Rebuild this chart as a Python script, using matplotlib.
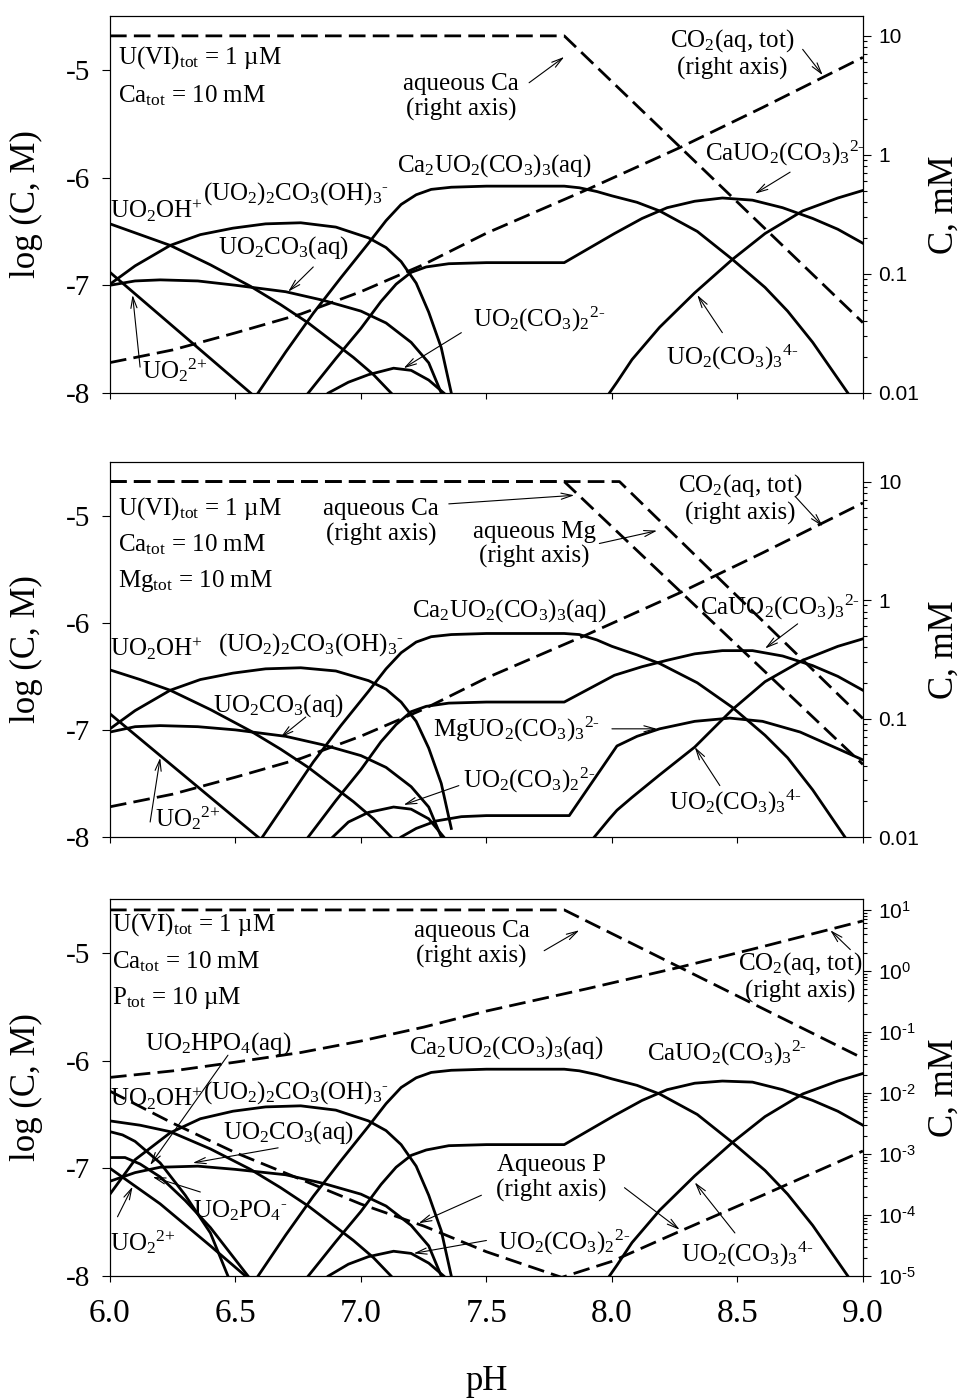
"""U(VI) speciation vs pH: Ca, Ca + Mg and Ca + P systems (three stacked panels)."""

import matplotlib
matplotlib.use("Agg")
import matplotlib.pyplot as plt
import numpy as np
from matplotlib.ticker import LogLocator, NullFormatter

plt.rcParams["font.family"] = ["Liberation Serif", "DejaVu Serif"]
plt.rcParams["mathtext.fontset"] = "custom"
plt.rcParams["mathtext.rm"] = "Liberation Serif"
plt.rcParams["mathtext.it"] = "Liberation Serif:italic"
plt.rcParams["mathtext.bf"] = "Liberation Serif:bold"
plt.rcParams["mathtext.sf"] = "Liberation Sans"
plt.rcParams["axes.unicode_minus"] = False

# ---------------- left axis: log(C, M) of U(VI) species ----------------
ph_uo2oh = [6.0, 6.12, 6.24, 6.4, 6.56, 6.68, 6.79, 6.88, 6.97, 7.05, 7.12]
p1_uo2oh = [-6.43, -6.53, -6.63, -6.81, -7.01, -7.18, -7.35, -7.51, -7.67, -7.83, -8.0]
p2_uo2oh = [-6.44, -6.53, -6.63, -6.81, -7.01, -7.18, -7.35, -7.51, -7.67, -7.83, -8.0]
p3_uo2oh = [-6.56, -6.6, -6.66, -6.82, -7.01, -7.18, -7.35, -7.51, -7.67, -7.83, -8.0]

ph_dimer = [6.0, 6.1, 6.24, 6.36, 6.49, 6.62, 6.76, 6.9, 7.03, 7.1, 7.16, 7.22, 7.27, 7.32, 7.36]
p1_dimer = [-6.99, -6.82, -6.63, -6.53, -6.47, -6.43, -6.42, -6.46, -6.56, -6.65, -6.78, -6.98, -7.25, -7.58, -8.0]
p2_dimer = [-6.99, -6.82, -6.63, -6.53, -6.47, -6.43, -6.42, -6.45, -6.54, -6.62, -6.74, -6.92, -7.17, -7.5, -7.92]
p3_dimer = [-7.24, -6.92, -6.67, -6.54, -6.47, -6.43, -6.42, -6.46, -6.56, -6.65, -6.78, -6.98, -7.25, -7.58, -8.0]

ph_uo2co3 = [6.0, 6.1, 6.2, 6.35, 6.5, 6.7, 6.85, 7.0, 7.1, 7.2, 7.27, 7.32]
p1_uo2co3 = [-7.0, -6.96, -6.95, -6.96, -7.0, -7.06, -7.14, -7.24, -7.35, -7.53, -7.72, -8.0]
p2_uo2co3 = [-7.02, -6.97, -6.96, -6.97, -7.0, -7.06, -7.14, -7.24, -7.35, -7.53, -7.72, -8.0]
p3_uo2co3 = [-7.12, -7.04, -6.99, -6.98, -7.01, -7.06, -7.14, -7.24, -7.35, -7.53, -7.72, -8.0]

ph_uo2 = [6.0, 6.2, 6.4, 6.6]
p1_uo2 = [-6.88, -7.28, -7.68, -8.08]
p2_uo2 = [-6.85, -7.24, -7.63, -8.02]
p3_uo2 = [-7.0, -7.33, -7.72, -8.12]

ph_hpo4 = [6.0, 6.05, 6.1, 6.2, 6.3, 6.4, 6.47]
p3_hpo4 = [-6.66, -6.69, -6.75, -6.95, -7.25, -7.6, -8.0]

ph_po4 = [6.0, 6.06, 6.12, 6.2, 6.3, 6.4, 6.55]
p3_po4 = [-6.9, -6.9, -6.96, -7.08, -7.3, -7.55, -8.0]

ph_ca2u = [6.59, 6.7, 6.81, 6.92, 7.03, 7.1, 7.16, 7.22, 7.28, 7.36, 7.5, 7.81, 7.87, 7.94,
           8.0, 8.1, 8.19, 8.34, 8.48, 8.61, 8.7, 8.8, 8.94]
p1_ca2u = [-8.0, -7.62, -7.26, -6.93, -6.61, -6.4, -6.25, -6.16, -6.11, -6.09, -6.08, -6.08,
           -6.095, -6.13, -6.17, -6.23, -6.31, -6.5, -6.76, -7.02, -7.24, -7.53, -8.0]
p2_ca2u = [-8.06, -7.68, -7.3, -6.96, -6.64, -6.43, -6.28, -6.18, -6.13, -6.11, -6.1, -6.1,
           -6.11, -6.16, -6.22, -6.3, -6.38, -6.56, -6.79, -7.05, -7.26, -7.56, -8.04]
p3_ca2u = p1_ca2u

ph_cau = [6.79, 6.9, 7.0, 7.08, 7.14, 7.2, 7.26, 7.35, 7.5, 7.81, 8.01, 8.12, 8.22, 8.33,
          8.44, 8.56, 8.68, 8.8, 8.9, 9.0]
p1_cau = [-8.0, -7.68, -7.4, -7.15, -6.99, -6.88, -6.83, -6.8, -6.79, -6.79, -6.52, -6.38,
          -6.28, -6.22, -6.19, -6.21, -6.28, -6.38, -6.48, -6.61]
p2_cau = [-8.0, -7.66, -7.37, -7.11, -6.95, -6.83, -6.78, -6.75, -6.74, -6.74, -6.49, -6.41,
          -6.35, -6.29, -6.26, -6.26, -6.31, -6.4, -6.5, -6.63]
p3_cau = [-8.0, -7.68, -7.4, -7.15, -6.99, -6.88, -6.83, -6.79, -6.78, -6.78, -6.51, -6.37,
          -6.27, -6.21, -6.19, -6.2, -6.27, -6.37, -6.47, -6.6]

ph_dicarb = [6.87, 6.95, 7.03, 7.13, 7.2, 7.27, 7.33]
p1_dicarb = [-8.0, -7.9, -7.83, -7.77, -7.79, -7.88, -8.0]
p2_dicarb = [-8.04, -7.86, -7.77, -7.72, -7.74, -7.83, -8.0]
p3_dicarb = [-8.0, -7.89, -7.82, -7.77, -7.79, -7.88, -8.0]

ph_tricarb = [7.93, 7.99, 8.02, 8.08, 8.19, 8.33, 8.48, 8.61, 8.76, 8.9, 9.0]
p1_tricarb = [-8.2, -8.0, -7.9, -7.69, -7.39, -7.07, -6.76, -6.52, -6.31, -6.19, -6.12]
p2_tricarb = [-8.0, -7.83, -7.75, -7.63, -7.42, -7.16, -6.81, -6.55, -6.35, -6.22, -6.15]
p3_tricarb = p1_tricarb

ph_mgu = [7.16, 7.22, 7.3, 7.4, 7.5, 7.83, 8.02, 8.1, 8.19, 8.33, 8.47, 8.6, 8.75, 9.0]
p2_mgu = [-8.0, -7.92, -7.85, -7.81, -7.8, -7.8, -7.15, -7.06, -6.99, -6.92, -6.89, -6.92,
          -7.02, -7.28]

# ---------------- right axis: C, mM (dashed) ----------------
ph_co2 = [6.0, 6.25, 6.5, 6.76, 7.0, 7.25, 7.5, 7.9, 8.27, 8.6, 9.0]
co2_mm = [0.018, 0.023, 0.032, 0.046, 0.071, 0.12, 0.22, 0.51, 1.15, 2.5, 6.6]

ph_ca_aq = [6.0, 7.81, 9.0]
p1_ca_aq = [10.0, 10.0, 0.039]
p2_ca_aq = [10.0, 10.0, 0.041]
p3_ca_aq = [10.0, 10.0, 0.037]

ph_mg_aq = [6.0, 8.03, 9.0]
p2_mg_aq = [10.0, 10.0, 0.10]

ph_p_aq = [6.0, 6.25, 6.5, 6.75, 7.0, 7.25, 7.5, 7.8, 8.0, 8.27, 8.6, 9.0]
p3_p_aq = [0.0107, 0.0032, 0.00105, 0.0004, 0.000151, 6.6e-5, 2.5e-5, 9.5e-6, 1.74e-5,
           5.4e-5, 2.1e-4, 1.12e-3]

HY = "\u2010"  # short hyphen for charges / exponents

ph_ticks = [6.0, 6.5, 7.0, 7.5, 8.0, 8.5, 9.0]
ph_ticklabels = ["6.0", "6.5", "7.0", "7.5", "8.0", "8.5", "9.0"]
mm_ticks = [0.01, 0.1, 1, 10]
mm_ticklabels = ["0.01", "0.1", "1", "10"]
mm_ticks_p = [1e-5, 1e-4, 1e-3, 1e-2, 1e-1, 1, 10]
mm_exponents = ["-5", "-4", "-3", "-2", "-1", "0", "1"]
mm_ticklabels_p = [r"$\mathsf{10^{" + e.replace("-", HY) + "}}$" for e in mm_exponents]

# labels
L_UO2OH = r"$\mathrm{UO_2OH^{+}}$"
L_DIMER = r"$\mathrm{(UO_2)_2CO_3(OH)_3{}^{" + HY + "}}$"
L_UO2CO3 = r"$\mathrm{UO_2CO_3(aq)}$"
L_UO2 = r"$\mathrm{UO_2{}^{2{+}}}$"
L_CA2U = r"$\mathrm{Ca_2UO_2(CO_3)_3(aq)}$"
L_CAU = r"$\mathrm{CaUO_2(CO_3)_3{}^{2" + HY + "}}$"
L_MGU = r"$\mathrm{MgUO_2(CO_3)_3{}^{2" + HY + "}}$"
L_DICARB = r"$\mathrm{UO_2(CO_3)_2{}^{2" + HY + "}}$"
L_TRICARB = r"$\mathrm{UO_2(CO_3)_3{}^{4" + HY + "}}$"
L_HPO4 = r"$\mathrm{UO_2HPO_4(aq)}$"
L_PO4 = r"$\mathrm{UO_2PO_4{}^{" + HY + "}}$"
L_CO2 = "$\\mathrm{CO_2}$(aq, tot)\n(right axis)"
L_U = r"U(VI)$_{\mathrm{tot}}$ = 1 µM"
L_CA = r"Ca$_{\mathrm{tot}}$ = 10 mM"
L_MG = r"Mg$_{\mathrm{tot}}$ = 10 mM"
L_P = r"P$_{\mathrm{tot}}$ = 10 µM"

SOLID = dict(color="black", lw=2.0)
DASHED = dict(color="black", lw=2.0, ls=(0, (6, 2.6)))
TXT = 18
SANS = ["Liberation Sans", "DejaVu Sans"]
ARROW = dict(arrowstyle="->,head_length=0.8,head_width=0.22", lw=0.8, color="black",
             shrinkA=0, shrinkB=0)


def label(ax, x, y, text, tail=None, head=None, ha="center"):
    ax.text(x, y, text, fontsize=TXT, ha=ha, va="center", linespacing=1.15,
            multialignment="center")
    if tail is not None:
        ax.annotate("", xy=head, xytext=tail, arrowprops=ARROW)


def setup(ax, ax2, rlim, rticks, rlabels, show_x):
    ax.set_xlim(6.0, 9.0)
    ax.set_ylim(-8.0, -4.5)
    ax.set_xticks(ph_ticks)
    ax.set_xticklabels(ph_ticklabels)
    ax.set_yticks([-8, -7, -6, -5])
    ax.tick_params(axis="y", direction="out", length=5.5, width=0.8, labelsize=21, pad=9)
    ax.tick_params(axis="x", direction="out", length=4.5, width=0.8, labelsize=24, pad=12,
                   labelbottom=show_x)
    ax.set_ylabel("log (C, M)", fontsize=25)
    ax.yaxis.set_label_coords(-0.089, 0.5)

    ax2.set_yscale("log")
    ax2.set_ylim(*rlim)
    ax2.set_yticks(rticks)
    ax2.set_yticklabels(rlabels, fontsize=15, family=SANS)
    ax2.yaxis.set_minor_locator(LogLocator(base=10, subs=np.arange(2, 10), numticks=30))
    ax2.yaxis.set_minor_formatter(NullFormatter())
    ax2.tick_params(which="major", direction="out", length=6, width=0.8, pad=5)
    ax2.tick_params(which="minor", direction="out", length=3, width=0.8)
    ax2.set_ylabel("C, mM", fontsize=25)
    ax2.yaxis.set_label_coords(1.086, 0.5)
    for a in (ax, ax2):
        for sp in a.spines.values():
            sp.set_linewidth(0.8)


fig = plt.figure(figsize=(9.69, 13.99), dpi=100)
ax_l, ax_w = 0.1135, 0.777

# ---- panel 1: Ca ----
ax = fig.add_axes([ax_l, 0.7191, ax_w, 0.2695])
ax2 = ax.twinx()
for x, y in [(ph_uo2oh, p1_uo2oh), (ph_dimer, p1_dimer), (ph_uo2co3, p1_uo2co3),
             (ph_uo2, p1_uo2), (ph_ca2u, p1_ca2u), (ph_cau, p1_cau),
             (ph_dicarb, p1_dicarb), (ph_tricarb, p1_tricarb)]:
    ax.plot(x, y, **SOLID)
ax2.plot(ph_ca_aq, p1_ca_aq, **DASHED)
ax2.plot(ph_co2, co2_mm, **DASHED)
setup(ax, ax2, (0.01, 14.7), mm_ticks, mm_ticklabels, False)
label(ax, 6.032, -4.89, L_U, ha="left")
label(ax, 6.032, -5.24, L_CA, ha="left")
label(ax, 7.4, -5.25, "aqueous Ca\n(right axis)", (7.67, -5.12), (7.81, -4.88))
label(ax, 8.48, -4.85, L_CO2, (8.76, -4.81), (8.84, -5.05))
label(ax, 7.53, -5.89, L_CA2U)
label(ax, 8.69, -5.78, L_CAU, (8.71, -5.95), (8.57, -6.15))
label(ax, 6.0, -6.31, L_UO2OH, ha="left")
label(ax, 6.74, -6.15, L_DIMER)
label(ax, 6.69, -6.65, L_UO2CO3, (6.81, -6.83), (6.71, -7.06))
label(ax, 6.26, -7.79, L_UO2, (6.12, -7.76), (6.09, -7.09))
label(ax, 7.71, -7.32, L_DICARB, (7.4, -7.44), (7.17, -7.77))
label(ax, 8.48, -7.67, L_TRICARB, (8.44, -7.44), (8.34, -7.09))

# ---- panel 2: Ca + Mg ----
ax = fig.add_axes([ax_l, 0.4017, ax_w, 0.268])
ax2 = ax.twinx()
for x, y in [(ph_uo2oh, p2_uo2oh), (ph_dimer, p2_dimer), (ph_uo2co3, p2_uo2co3),
             (ph_uo2, p2_uo2), (ph_ca2u, p2_ca2u), (ph_cau, p2_cau),
             (ph_dicarb, p2_dicarb), (ph_tricarb, p2_tricarb), (ph_mgu, p2_mgu)]:
    ax.plot(x, y, **SOLID)
ax2.plot(ph_ca_aq, p2_ca_aq, **DASHED)
ax2.plot(ph_mg_aq, p2_mg_aq, **DASHED)
ax2.plot(ph_co2, co2_mm, **DASHED)
setup(ax, ax2, (0.01, 14.6), mm_ticks, mm_ticklabels, False)
label(ax, 6.032, -4.93, L_U, ha="left")
label(ax, 6.032, -5.27, L_CA, ha="left")
label(ax, 6.032, -5.61, L_MG, ha="left")
label(ax, 7.08, -5.06, "aqueous Ca\n(right axis)", (7.35, -4.89), (7.85, -4.81))
label(ax, 7.69, -5.27, "aqueous Mg\n(right axis)", (7.95, -5.26), (8.18, -5.14))
label(ax, 8.51, -4.84, L_CO2, (8.73, -4.82), (8.84, -5.1))
label(ax, 7.59, -5.89, L_CA2U)
label(ax, 8.67, -5.86, L_CAU, (8.74, -6.01), (8.61, -6.24))
label(ax, 6.0, -6.24, L_UO2OH, ha="left")
label(ax, 6.8, -6.2, L_DIMER)
label(ax, 6.67, -6.77, L_UO2CO3, (6.78, -6.88), (6.68, -7.07))
label(ax, 6.31, -7.82, L_UO2, (6.16, -7.86), (6.2, -7.26))
label(ax, 7.62, -7.0, L_MGU, (8.0, -6.99), (8.18, -6.99))
label(ax, 7.67, -7.47, L_DICARB, (7.39, -7.52), (7.17, -7.7))
label(ax, 8.49, -7.68, L_TRICARB, (8.43, -7.52), (8.33, -7.16))

# ---- panel 3: Ca + P ----
ax = fig.add_axes([ax_l, 0.0879, ax_w, 0.2695])
ax2 = ax.twinx()
for x, y in [(ph_uo2oh, p3_uo2oh), (ph_dimer, p3_dimer), (ph_uo2co3, p3_uo2co3),
             (ph_uo2, p3_uo2), (ph_hpo4, p3_hpo4), (ph_po4, p3_po4),
             (ph_ca2u, p3_ca2u), (ph_cau, p3_cau),
             (ph_dicarb, p3_dicarb), (ph_tricarb, p3_tricarb)]:
    ax.plot(x, y, **SOLID)
ax2.plot(ph_ca_aq, p3_ca_aq, **DASHED)
ax2.plot(ph_co2, co2_mm, **DASHED)
ax2.plot(ph_p_aq, p3_p_aq, **DASHED)
setup(ax, ax2, (1e-5, 15.1), mm_ticks_p, mm_ticklabels_p, True)
label(ax, 6.008, -4.74, L_U, ha="left")
label(ax, 6.008, -5.08, L_CA, ha="left")
label(ax, 6.008, -5.42, L_P, ha="left")
label(ax, 7.44, -4.92, "aqueous Ca\n(right axis)", (7.73, -4.98), (7.87, -4.79))
label(ax, 8.75, -5.22, L_CO2, (8.95, -4.97), (8.87, -4.79))
label(ax, 6.43, -5.84, L_HPO4, (6.47, -5.95), (6.16, -6.97))
label(ax, 6.0, -6.35, L_UO2OH, ha="left")
label(ax, 6.74, -6.3, L_DIMER)
label(ax, 6.71, -6.67, L_UO2CO3, (6.67, -6.81), (6.33, -6.95))
label(ax, 6.52, -7.39, L_PO4, (6.36, -7.22), (6.17, -7.08))
label(ax, 6.13, -7.68, L_UO2, (6.03, -7.45), (6.09, -7.17))
label(ax, 7.58, -5.88, L_CA2U)
label(ax, 8.46, -5.93, L_CAU)
label(ax, 7.76, -7.09, "Aqueous P\n(right axis)", (7.48, -7.25), (7.23, -7.51))
ax.annotate("", xy=(8.27, -7.57), xytext=(8.05, -7.18), arrowprops=ARROW)
label(ax, 7.81, -7.69, L_DICARB, (7.5, -7.67), (7.21, -7.79))
label(ax, 8.54, -7.8, L_TRICARB, (8.49, -7.6), (8.33, -7.13))

fig.text(0.5026, 0.0064, "pH", fontsize=25, ha="center", va="baseline")

fig.savefig("out.png", dpi=100)
plt.close(fig)
